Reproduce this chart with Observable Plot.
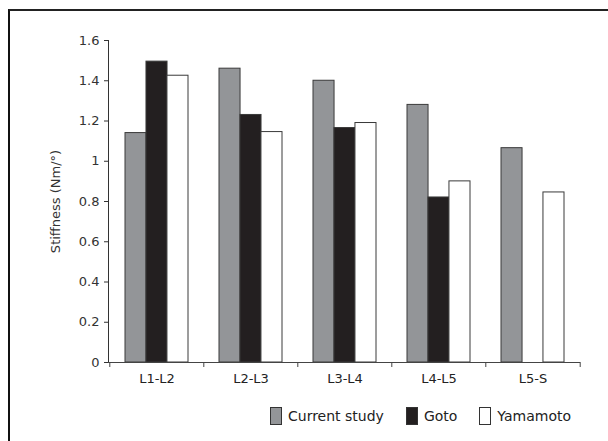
<!DOCTYPE html>
<html>
<head>
<meta charset="utf-8">
<script src="https://cdn.jsdelivr.net/npm/d3@7"></script>
<script src="https://cdn.jsdelivr.net/npm/@observablehq/plot@0.6"></script>
<style>
  html, body { margin: 0; padding: 0; background: #fff; }
  #page { position: relative; width: 608px; height: 441px; overflow: hidden; font-family: "DejaVu Sans", sans-serif; color: #222; }
  #border { position: absolute; left: 8px; top: 9px; width: 700px; height: 500px; border-top: 2px solid #222; border-left: 2px solid #111; }
  #chart { position: absolute; left: 0; top: 0; }
  #legend { position: absolute; left: 270px; top: 407px; display: flex; align-items: center; font-size: 14px; }
  .item { display: flex; align-items: center; margin-right: 22px; }
  .sw { width: 10px; height: 16px; border: 1px solid #333; margin-right: 6px; }
</style>
</head>
<body>
<div id="page">
  <div id="border"></div>
  <div id="chart"></div>
  <div id="legend"></div>
</div>
<script>
const categories = ["L1-L2", "L2-L3", "L3-L4", "L4-L5", "L5-S"];
const seriesNames = ["Current study", "Goto", "Yamamoto"];
const currentStudy = [1.14, 1.46, 1.40, 1.28, 1.065];
const gotoValues = [1.495, 1.23, 1.165, 0.82, null];
const yamamoto = [1.425, 1.145, 1.19, 0.90, 0.845];
const seriesColors = ["#939598", "#231f20", "#ffffff"];
const yTicks = [0, 0.2, 0.4, 0.6, 0.8, 1, 1.2, 1.4, 1.6];

const seriesValues = [currentStudy, gotoValues, yamamoto];
const rows = [];
seriesNames.forEach((s, i) => categories.forEach((c, j) => {
  if (seriesValues[i][j] != null) rows.push({category: c, series: s, value: seriesValues[i][j]});
}));

const W = 608, H = 400, mL = 108, mR = 28, mT = 40, mB = 38;
const step = (W - mL - mR) / categories.length;
const bw = step * (2 / 3);
const w = bw / 3;

const barFor = (i) => Plot.barY(rows.filter(d => d.series === seriesNames[i]), {
  x: "category", y: "value",
  fill: seriesColors[i], stroke: "#3a3a3a", strokeWidth: 1,
  insetLeft: i * w, insetRight: (2 - i) * w
});

const chart = Plot.plot({
  width: W, height: H,
  marginLeft: mL, marginRight: mR, marginTop: mT, marginBottom: mB,
  style: {fontFamily: "DejaVu Sans, sans-serif", fontSize: "13px", color: "#333", background: "transparent"},
  x: {domain: categories, paddingInner: 1 / 3, paddingOuter: 1 / 6},
  y: {domain: [0, 1.6], ticks: yTicks, tickSize: 4, tickPadding: 5, line: true,
      tickFormat: d => String(+d.toFixed(1)),
      label: "Stiffness (Nm/°)", labelAnchor: "center", labelOffset: 58, labelArrow: "none"},
  marks: [
    barFor(0), barFor(1), barFor(2),
    Plot.ruleY([0], {stroke: "#444"}),
    Plot.axisX({tickSize: 0, tickPadding: 11, fontSize: 13, fill: "#222", label: null}),
    Plot.axisX({tickSize: 5, tickFormat: () => "", dx: -step / 2, stroke: "#444", label: null}),
    Plot.axisX([categories[categories.length - 1]], {tickSize: 5, tickFormat: () => "", dx: step / 2, stroke: "#444", label: null})
  ]
});
document.getElementById("chart").appendChild(chart);

const legend = document.getElementById("legend");
seriesNames.forEach((s, i) => {
  const item = document.createElement("div");
  item.className = "item";
  const sw = document.createElement("div");
  sw.className = "sw";
  sw.style.background = seriesColors[i];
  const t = document.createElement("span");
  t.textContent = s;
  item.appendChild(sw); item.appendChild(t);
  legend.appendChild(item);
});
</script>
</body>
</html>
